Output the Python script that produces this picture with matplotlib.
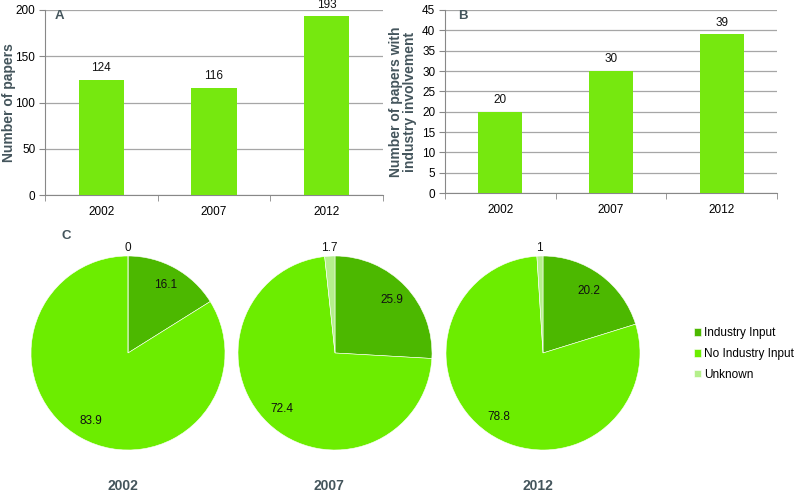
import matplotlib
matplotlib.use('Agg')
import matplotlib.pyplot as plt
import numpy as np

plt.rcParams['font.family'] = ['Liberation Sans', 'DejaVu Sans']

years = ['2002', '2007', '2012']
papers = [124, 116, 193]
industry_papers = [20, 30, 39]

pie_labels = ['Industry Input', 'No Industry Input', 'Unknown']
pie_2002 = [16.1, 83.9, 0]
pie_2007 = [25.9, 72.4, 1.7]
pie_2012 = [20.2, 78.8, 1]
pie_text = [['16.1', '83.9', '0'], ['25.9', '72.4', '1.7'], ['20.2', '78.8', '1']]

bar_color = '#76e80f'
pie_colors = ['#4cb800', '#6ced00', '#b5ef8c']
label_color = '#44555c'
grid_color = '#a6a6a6'

W, H = 799, 493
fig = plt.figure(figsize=(W / 100, H / 100), dpi=100)


def px_axes(left, top, right, bottom):
    return fig.add_axes([left / W, 1 - bottom / H, (right - left) / W, (bottom - top) / H])


def bar_panel(ax, values, ymax, step, letter, letter_x, ylabel, label_x):
    x = np.arange(len(values))
    ax.bar(x, values, width=0.4, color=bar_color, zorder=3)
    for xi, v in zip(x, values):
        ax.annotate(str(v), (xi, v), xytext=(0, 8.5), textcoords='offset points',
                    ha='center', va='center', fontsize=8.5, color='#111111')
    ax.set_xlim(-0.5, len(values) - 0.5)
    ax.set_ylim(0, ymax)
    ax.set_yticks(np.arange(0, ymax + 1, step))
    ax.set_xticks(x)
    ax.set_xticklabels(years)
    ax.set_xticks(np.arange(-0.5, len(values)), minor=True)
    ax.tick_params(axis='x', which='major', length=0, pad=8, labelsize=8.5)
    ax.tick_params(axis='x', which='minor', length=4, color='#888888')
    ax.tick_params(axis='y', length=4, color='#888888', labelsize=8.5, pad=3)
    ax.yaxis.grid(True, color=grid_color, lw=0.9, zorder=0)
    for s in ['top', 'right']:
        ax.spines[s].set_visible(False)
    for s in ['left', 'bottom']:
        ax.spines[s].set_color('#888888')
    ax.set_ylabel(ylabel, fontsize=10, fontweight='bold', color=label_color,
                  linespacing=1.05, va='center')
    ax.yaxis.set_label_coords(label_x, 0.5)
    ax.text(letter_x, 0.965, letter, transform=ax.transAxes, fontsize=9.5,
            fontweight='bold', color=label_color, ha='left', va='center')


axA = px_axes(45, 10, 383, 195)
bar_panel(axA, papers, 200, 50, 'A', 0.03, 'Number of papers', -0.107)

axB = px_axes(445, 10, 777, 193)
bar_panel(axB, industry_papers, 45, 5, 'B', 0.039,
          'Number of papers with\nindustry involvement', -0.127)

centers = [128, 335, 543]
cy = 353
radius = 97
half = 120
wedges_for_legend = None
for cx, vals, txts, yr in zip(centers, [pie_2002, pie_2007, pie_2012], pie_text, years):
    ax = px_axes(cx - half, cy - half, cx + half, cy + half)
    lim = half / radius
    wedges, _ = ax.pie(vals, colors=pie_colors, startangle=90, counterclock=False,
                       radius=1, wedgeprops=dict(linewidth=0.4, edgecolor='white'))
    ax.set_xlim(-lim, lim)
    ax.set_ylim(-lim, lim)
    ax.set_aspect('equal')
    ax.axis('off')
    for i, (w, t) in enumerate(zip(wedges, txts)):
        mid = np.deg2rad((w.theta1 + w.theta2) / 2)
        r = 1.08 if i == 2 else 0.8
        ax.text(r * np.cos(mid), r * np.sin(mid), t, ha='center', va='center',
                fontsize=8.5, color='#111111')
    fig.text(cx / W - 0.007, 1 - 486 / H, yr, ha='center', va='center',
             fontsize=10, fontweight='bold', color=label_color)
    wedges_for_legend = wedges

fig.text(66 / W, 1 - 236 / H, 'C', ha='center', va='center', fontsize=9.5,
         fontweight='bold', color=label_color)

fig.legend(wedges_for_legend, pie_labels, loc='center left',
           bbox_to_anchor=(694 / W, 1 - 354 / H), frameon=False, fontsize=8.5,
           handlelength=0.6, handleheight=0.6, handletextpad=0.25,
           labelspacing=0.75, borderpad=0, borderaxespad=0)

fig.savefig('out.png', dpi=100)
